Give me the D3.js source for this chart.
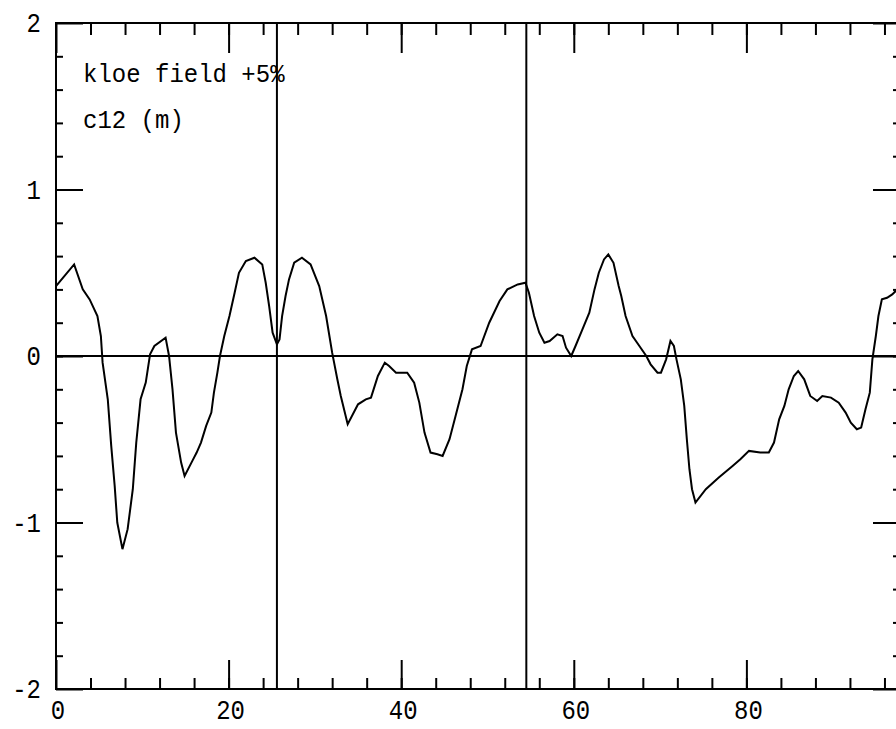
<!DOCTYPE html>
<html>
<head>
<meta charset="utf-8">
<script src="https://cdn.jsdelivr.net/npm/d3@7"></script>
<style>
  html, body { margin: 0; padding: 0; background: #fff; overflow: hidden; }
  svg text { font-family: "Liberation Mono", "DejaVu Sans Mono", monospace; fill: #000; }
</style>
</head>
<body>
<svg id="chart" width="896" height="729"></svg>
<script>
// position along ring (m)
const positions = [0, 2.1, 3.1, 3.9, 4.8, 5.2, 5.4, 6.0, 6.4, 6.8, 7.1, 7.7, 8.3, 8.9, 9.3, 9.8,
  10.4, 10.9, 11.4, 12.7, 13.1, 13.5, 13.9, 14.5, 14.9, 15.8, 16.3, 16.8, 17.4, 18.0, 18.3, 18.7,
  19.0, 19.5, 20.1, 20.7, 21.2, 22.0, 23.0, 23.9, 24.3, 24.7, 25.1, 25.6, 25.9, 26.2, 26.6, 27.0,
  27.6, 28.5, 29.5, 30.5, 31.3, 32.0, 32.6, 33.0, 33.8, 35.0, 35.9, 36.5, 37.3, 38.1, 38.6, 39.4,
  40.7, 41.5, 42.1, 42.7, 43.4, 44.2, 44.8, 45.6, 46.3, 47.1, 47.6, 48.2, 49.2, 50.2, 51.4, 52.3,
  53.5, 54.4, 54.8, 55.4, 56.0, 56.6, 57.2, 58.1, 58.7, 59.1, 59.7, 60.2, 61.0, 61.8, 62.4, 62.9,
  63.5, 64.0, 64.6, 65.2, 65.5, 66.0, 66.8, 67.6, 68.4, 68.9, 69.7, 70.1, 70.7, 71.2, 71.6, 71.9,
  72.4, 72.8, 73.1, 73.4, 73.7, 74.1, 75.3, 76.8, 78.4, 79.3, 80.3, 81.6, 82.6, 83.2, 83.8, 84.4,
  84.9, 85.5, 86.0, 86.7, 87.4, 88.2, 88.8, 89.8, 90.7, 91.5, 92.1, 92.8, 93.3, 93.8, 94.3, 94.6,
  95.0, 95.3, 95.7, 96.3, 96.9, 97.3, 97.8];

// c12 values (m)
const c12 = [0.42, 0.55, 0.40, 0.34, 0.24, 0.12, -0.04, -0.26, -0.54, -0.78, -1.00, -1.16, -1.04, -0.80, -0.52, -0.26,
  -0.16, 0.01, 0.06, 0.11, 0.00, -0.20, -0.46, -0.64, -0.72, -0.63, -0.58, -0.52, -0.42, -0.34, -0.22, -0.10,
  0.00, 0.12, 0.24, 0.38, 0.50, 0.57, 0.59, 0.55, 0.44, 0.30, 0.14, 0.07, 0.10, 0.24, 0.36, 0.46,
  0.56, 0.59, 0.55, 0.42, 0.24, 0.02, -0.14, -0.24, -0.41, -0.29, -0.26, -0.25, -0.12, -0.04, -0.06, -0.10,
  -0.10, -0.16, -0.28, -0.46, -0.58, -0.59, -0.60, -0.50, -0.36, -0.20, -0.06, 0.04, 0.06, 0.20, 0.33, 0.40,
  0.43, 0.44, 0.38, 0.24, 0.14, 0.08, 0.09, 0.13, 0.12, 0.05, 0.00, 0.06, 0.16, 0.26, 0.40, 0.50,
  0.58, 0.61, 0.56, 0.42, 0.36, 0.24, 0.12, 0.06, 0.00, -0.05, -0.10, -0.10, -0.02, 0.09, 0.06, -0.02,
  -0.14, -0.30, -0.50, -0.68, -0.80, -0.88, -0.80, -0.73, -0.66, -0.62, -0.57, -0.58, -0.58, -0.52, -0.38, -0.30,
  -0.20, -0.12, -0.09, -0.14, -0.24, -0.27, -0.24, -0.25, -0.28, -0.34, -0.40, -0.44, -0.43, -0.32, -0.22, -0.02,
  0.12, 0.24, 0.34, 0.35, 0.37, 0.39, 0.42];

const markerPositions = [25.6, 54.5];
const xMajorTicks = [0, 20, 40, 60, 80];
const xMinorTicks = d3.range(4, 97, 4);
const yMajorTicks = [-2, -1, 0, 1, 2];
const yMinorTicks = d3.range(-1.8, 2, 0.2);
const labels = ['kloe field +5%', 'c12 (m)'];

const plotLeft = 56, plotRight = 900, plotTop = 23, plotBottom = 689;

const svg = d3.select('#chart');

const x = d3.scaleLinear().domain([0, 97.8]).range([plotLeft, plotRight]);
const y = d3.scaleLinear().domain([-2, 2]).range([plotBottom, plotTop]);

function tickAxis(axis, values, size, transform) {
  const g = svg.append('g')
    .attr('transform', transform)
    .call(axis.tickValues(values).tickSize(size).tickSizeOuter(0).tickFormat(''));
  g.select('.domain').remove();
  g.selectAll('line').attr('stroke', '#000').attr('stroke-width', 2);
  return g;
}

// inward ticks on all four sides
tickAxis(d3.axisBottom(x), xMinorTicks, -11, `translate(0,${plotBottom})`);
tickAxis(d3.axisBottom(x), xMajorTicks, -29, `translate(0,${plotBottom})`);
tickAxis(d3.axisTop(x), xMinorTicks, -12, `translate(0,${plotTop})`);
tickAxis(d3.axisTop(x), xMajorTicks, -30, `translate(0,${plotTop})`);
tickAxis(d3.axisLeft(y), yMinorTicks, -7, `translate(${plotLeft},0)`);
tickAxis(d3.axisLeft(y), yMajorTicks, -27, `translate(${plotLeft},0)`);
tickAxis(d3.axisRight(y), yMinorTicks, -7, `translate(${plotRight},0)`);
tickAxis(d3.axisRight(y), yMajorTicks, -27, `translate(${plotRight},0)`);

// frame
svg.append('rect')
  .attr('x', plotLeft).attr('y', plotTop)
  .attr('width', plotRight - plotLeft).attr('height', plotBottom - plotTop)
  .attr('fill', 'none').attr('stroke', '#000').attr('stroke-width', 2);

// zero line and marker lines
svg.append('line')
  .attr('x1', plotLeft).attr('x2', plotRight)
  .attr('y1', y(0)).attr('y2', y(0))
  .attr('stroke', '#000').attr('stroke-width', 2);

svg.selectAll('.marker')
  .data(markerPositions)
  .enter()
  .append('line')
  .attr('x1', d => x(d)).attr('x2', d => x(d))
  .attr('y1', plotTop).attr('y2', plotBottom)
  .attr('stroke', '#000').attr('stroke-width', 2);

// tick labels (bitmap-like font is taller than it is wide)
svg.selectAll('.xlabel')
  .data(xMajorTicks)
  .enter()
  .append('text')
  .attr('transform', d => `translate(${x(d) + 2},719) scale(1,1.12)`)
  .attr('text-anchor', 'middle')
  .style('font-size', '24px')
  .text(d => d);

svg.selectAll('.ylabel')
  .data(yMajorTicks)
  .enter()
  .append('text')
  .attr('transform', d => `translate(41,${y(d) + 9}) scale(1,1.12)`)
  .attr('text-anchor', 'end')
  .style('font-size', '24px')
  .text(d => d);

// curve
const line = d3.line()
  .x((d, i) => x(positions[i]))
  .y(d => y(d));

svg.append('path')
  .datum(c12)
  .attr('d', line)
  .attr('fill', 'none')
  .attr('stroke', '#000')
  .attr('stroke-width', 2);

// annotations
svg.selectAll('.note')
  .data(labels)
  .enter()
  .append('text')
  .attr('transform', (d, i) => `translate(83,${82 + i * 46}) scale(1,1.1)`)
  .style('font-size', '24px')
  .text(d => d);
</script>
</body>
</html>
